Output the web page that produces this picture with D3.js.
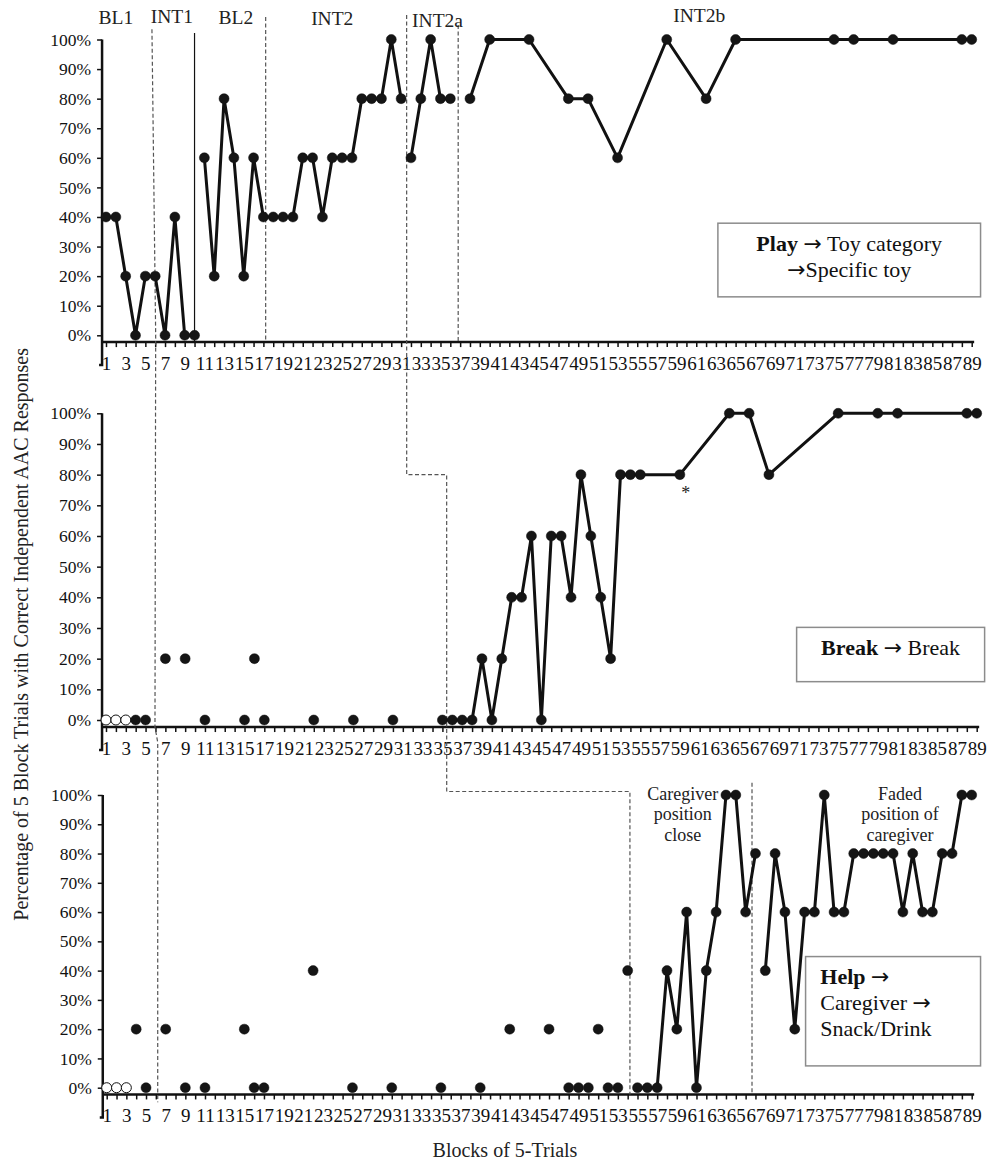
<!DOCTYPE html>
<html>
<head>
<meta charset="utf-8">
<script src="https://cdn.jsdelivr.net/npm/d3@7"></script>
<style>
  body { margin: 0; background: #fff; }
  svg, svg text { font-family: "Liberation Serif", "Times New Roman", serif; }
</style>
</head>
<body>
<svg id="chart" width="995" height="1161"></svg>
<script>
// ---- data ----
var blocks = d3.range(1, 90);
var pctTicks = [0, 0.1, 0.2, 0.3, 0.4, 0.5, 0.6, 0.7, 0.8, 0.9, 1];

// Play -> Toy category -> Specific toy
var playBlocks = [1, 2, 3, 4, 5, 6, 7, 8, 9, 10, 11, 12, 13, 14, 15, 16, 17, 18, 19, 20,
    21, 22, 23, 24, 25, 26, 27, 28, 29, 30, 31, 32, 33, 34, 35, 36,
    38, 40, 44, 48, 50, 53, 58, 62, 65, 75, 77, 81, 88, 89];
var playValues = [40, 40, 20, 0, 20, 20, 0, 40, 0, 0, 60, 20, 80, 60, 20, 60, 40, 40, 40, 40,
    60, 60, 40, 60, 60, 60, 80, 80, 80, 100, 80, 60, 80, 100, 80, 80,
    80, 100, 100, 80, 80, 60, 100, 80, 100, 100, 100, 100, 100, 100];
var playBreaks = [11, 32, 38];

// Break -> Break
var breakOpenBlocks = [1, 2, 3];
var breakOpenValues = [0, 0, 0];
var breakDotBlocks = [4, 5, 7, 9, 11, 15, 16, 17, 22, 26, 30];
var breakDotValues = [0, 0, 20, 20, 0, 0, 20, 0, 0, 0, 0];
var breakLineBlocks = [35, 36, 37, 38, 39, 40, 41, 42, 43, 44, 45, 46, 47, 48, 49, 50, 51, 52, 53, 54, 55,
    59, 64, 66, 68, 75, 79, 81, 88, 89];
var breakLineValues = [0, 0, 0, 0, 20, 0, 20, 40, 40, 60, 0, 60, 60, 40, 80, 60, 40, 20, 80, 80, 80,
    80, 100, 100, 80, 100, 100, 100, 100, 100];
var breakBreaks = [];

// Help -> Caregiver -> Snack/Drink
var helpOpenBlocks = [1, 2, 3];
var helpOpenValues = [0, 0, 0];
var helpDotBlocks = [4, 5, 7, 9, 11, 15, 16, 17, 22, 26, 30, 35, 39, 42, 46, 48, 49, 50, 51, 52, 53, 54];
var helpDotValues = [20, 0, 20, 0, 0, 20, 0, 0, 40, 0, 0, 0, 0, 20, 20, 0, 0, 0, 20, 0, 0, 40];
var helpLineBlocks = [55, 56, 57, 58, 59, 60, 61, 62, 63, 64, 65, 66, 67,
    68, 69, 70, 71, 72, 73, 74, 75, 76, 77, 78, 79, 80, 81, 82, 83, 84, 85, 86, 87, 88, 89];
var helpLineValues = [0, 0, 0, 40, 20, 60, 0, 40, 60, 100, 100, 60, 80,
    40, 80, 60, 20, 60, 60, 100, 60, 60, 80, 80, 80, 80, 80, 60, 80, 60, 60, 80, 80, 100, 100];
var helpBreaks = [68];

var phaseLabels = ["BL1", "INT1", "BL2", "INT2", "INT2a", "INT2b"];

// ---- layout ----
var svg = d3.select("#chart");
svg.append("rect").attr("width", 995).attr("height", 1161).attr("fill", "#fff");

// each panel is its own small chart, slightly different sizes
var panels = [
    {top: 39.5, bottom: 335.3, left: 106, right: 971.7},
    {top: 413.3, bottom: 720, left: 106, right: 976.7},
    {top: 795, bottom: 1087.7, left: 106.7, right: 971.7}
];
panels.forEach(function(p) {
    p.x = d3.scaleLinear().domain([1, 89]).range([p.left, p.right]);
    p.y = d3.scaleLinear().domain([0, 1]).range([p.bottom, p.top]);
    p.axisY = p.y(-0.023);
});

function drawAxes(p) {
    var g = svg.append("g");
    var xAxis = d3.axisBottom(p.x).tickValues(blocks).tickSize(5).tickSizeOuter(0).tickPadding(9)
        .tickFormat(function(d) { return d % 2 ? d : ""; });
    var gx = g.append("g").attr("transform", "translate(0," + p.axisY + ")").call(xAxis);
    gx.attr("font-family", null).attr("font-size", null);
    gx.select(".domain").remove();
    gx.selectAll(".tick line").attr("stroke", "#111").attr("stroke-width", 1.5);
    gx.selectAll("text").attr("fill", "#111").style("font-size", "19px");
    g.append("line")
        .attr("x1", p.x(0.6)).attr("x2", p.x(89.25))
        .attr("y1", p.axisY).attr("y2", p.axisY)
        .attr("stroke", "#111").attr("stroke-width", 2.5);

    var yAxis = d3.axisLeft(p.y).tickValues(pctTicks).tickSize(5).tickPadding(6)
        .tickFormat(d3.format(".0%"));
    var ax = p.x(0.6);
    var gy = g.append("g").attr("transform", "translate(" + ax + ",0)").call(yAxis);
    gy.attr("font-family", null).attr("font-size", null);
    gy.select(".domain").remove();
    gy.selectAll(".tick line").attr("stroke", "#111").attr("stroke-width", 1.5);
    gy.selectAll("text").attr("fill", "#111").style("font-size", "17.5px");
    g.append("path")
        .attr("d", "M" + ax + "," + p.y(1) + "V" + (p.axisY + 23) + "h-3")
        .attr("fill", "none").attr("stroke", "#111").attr("stroke-width", 2.5);
}
panels.forEach(drawAxes);

// ---- phase change lines (block, percent on a given panel) ----
var phaseLines = [
    [[0, 5.67, 103.5], [0, 6.05, 0], [1, 5.95, -2.3], [2, 6.19, 118], [2, 6.19, -5]],
    [[0, 17.23, 107.6], [0, 17.23, -2.3]],
    [[0, 31.56, 108.3], [1, 31.39, 80], [1, 35.43, 80], [2, 35.59, 101.2], [2, 54.23, 101.2], [2, 54.23, -2.3]],
    [[0, 36.8, 104.9], [0, 36.8, -2.3]],
    [[2, 66.65, 104.2], [2, 66.65, -2.3]]
];
var phasePath = d3.line()
    .x(function(d) { return panels[d[0]].x(d[1]); })
    .y(function(d) { return panels[d[0]].y(d[2] / 100); });
svg.append("g").selectAll("path").data(phaseLines).join("path")
    .attr("d", phasePath)
    .attr("fill", "none").attr("stroke", "#555").attr("stroke-width", 1.2)
    .attr("stroke-dasharray", "4,2.5");

// solid line between INT1 and BL2 on the top panel
svg.append("line")
    .attr("x1", panels[0].x(10)).attr("x2", panels[0].x(10))
    .attr("y1", panels[0].y(1.022)).attr("y2", panels[0].axisY)
    .attr("stroke", "#111").attr("stroke-width", 1.2);

// ---- data marks ----
function segmentsOf(bl, vals, breaks) {
    var pts = bl.map(function(b, i) {
        var seg = breaks.filter(function(k) { return k <= b; }).length;
        return {b: b, v: vals[i] / 100, seg: seg};
    });
    return Array.from(d3.group(pts, function(d) { return d.seg; }).values());
}

function drawSeries(p, bl, vals, breaks) {
    var line = d3.line().x(function(d) { return p.x(d.b); }).y(function(d) { return p.y(d.v); });
    var segs = segmentsOf(bl, vals, breaks);
    svg.append("g").selectAll("path").data(segs).join("path")
        .attr("d", line).attr("fill", "none")
        .attr("stroke", "#111").attr("stroke-width", 3).attr("stroke-linejoin", "round");
    drawDots(p, bl, vals, false);
}

function drawDots(p, bl, vals, open) {
    svg.append("g").selectAll("circle").data(bl).join("circle")
        .attr("cx", function(d) { return p.x(d); })
        .attr("cy", function(d, i) { return p.y(vals[i] / 100); })
        .attr("r", 5)
        .attr("fill", open ? "#fff" : "#151515")
        .attr("stroke", "#111").attr("stroke-width", open ? 1 : 0.5);
}

drawSeries(panels[0], playBlocks, playValues, playBreaks);

drawDots(panels[1], breakOpenBlocks, breakOpenValues, true);
drawDots(panels[1], breakDotBlocks, breakDotValues, false);
drawSeries(panels[1], breakLineBlocks, breakLineValues, breakBreaks);

drawDots(panels[2], helpOpenBlocks, helpOpenValues, true);
drawDots(panels[2], helpDotBlocks, helpDotValues, false);
drawSeries(panels[2], helpLineBlocks, helpLineValues, helpBreaks);

// ---- text ----
var topPanel = panels[0];
var labelPos = [[2, 105.3], [7.7, 105.5], [14.2, 105.3], [24, 105], [34.7, 104.3], [61.3, 106]];
svg.append("g").selectAll("text").data(phaseLabels).join("text")
    .attr("x", function(d, i) { return topPanel.x(labelPos[i][0]); })
    .attr("y", function(d, i) { return topPanel.y(labelPos[i][1] / 100); })
    .attr("text-anchor", "middle")
    .style("font-size", "19.5px").attr("fill", "#222")
    .text(function(d) { return d; });

// condition boxes
function box(p, b0, b1, v0, v1) {
    svg.append("rect")
        .attr("x", p.x(b0)).attr("y", p.y(v0))
        .attr("width", p.x(b1) - p.x(b0)).attr("height", p.y(v1) - p.y(v0))
        .attr("fill", "#fff").attr("stroke", "#8c8c8c").attr("stroke-width", 1.5);
}
// parts: [text, bold]; "\u2192" parts are drawn with a fuller arrow glyph
function richLine(x, y, anchor, parts) {
    var t = svg.append("text").attr("x", x).attr("y", y).attr("text-anchor", anchor)
        .style("font-size", "22px").attr("fill", "#111");
    parts.forEach(function(pt) {
        var s = t.append("tspan").attr("font-weight", pt[1] ? "bold" : "normal").text(pt[0]);
        if (pt[0] === "\u2192") s.style("font-family", "'DejaVu Sans'").style("font-size", "22px");
    });
}

box(panels[0], 63.2, 89.9, 0.379, 0.13);
var cx0 = (panels[0].x(63.2) + panels[0].x(89.9)) / 2;
richLine(cx0, 250.7, "middle", [["Play", true], [" ", false], ["\u2192", false], [" Toy category", false]]);
richLine(cx0, 276.7, "middle", [["\u2192", false], ["Specific toy", false]]);

box(panels[1], 70.8, 89.8, 0.302, 0.125);
var cx1 = (panels[1].x(70.8) + panels[1].x(89.8)) / 2;
richLine(cx1, 655, "middle", [["Break", true], [" ", false], ["\u2192", false], [" Break", false]]);

box(panels[2], 72.1, 89.9, 0.448, 0.0745);
var lx2 = panels[2].x(73.6);
richLine(lx2, 984, "start", [["Help", true], [" ", false], ["\u2192", false]]);
richLine(lx2, 1010, "start", [["Caregiver ", false], ["\u2192", false]]);
richLine(lx2, 1036, "start", [["Snack/Drink", false]]);

// notes on the panels
function note(p, b, v, lines) {
    var t = svg.append("text").attr("text-anchor", "middle")
        .style("font-size", "18px").attr("fill", "#222");
    lines.forEach(function(s, i) {
        t.append("tspan").attr("x", p.x(b)).attr("y", p.y(v) + i * 20.5).text(s);
    });
}
note(panels[2], 59.6, 0.983, ["Caregiver", "position", "close"]);
note(panels[2], 81.7, 0.983, ["Faded", "position of", "caregiver"]);
note(panels[1], 59.6, 0.72, ["*"]);

// axis titles
svg.append("text")
    .attr("transform", "translate(28,348) rotate(-90)")
    .attr("text-anchor", "end")
    .style("font-size", "20px").attr("fill", "#222")
    .text("Percentage of 5 Block Trials with Correct Independent AAC Responses");

svg.append("text")
    .attr("x", 505).attr("y", 1157)
    .attr("text-anchor", "middle")
    .style("font-size", "20px").attr("fill", "#222")
    .text("Blocks of 5-Trials");
</script>
</body>
</html>
